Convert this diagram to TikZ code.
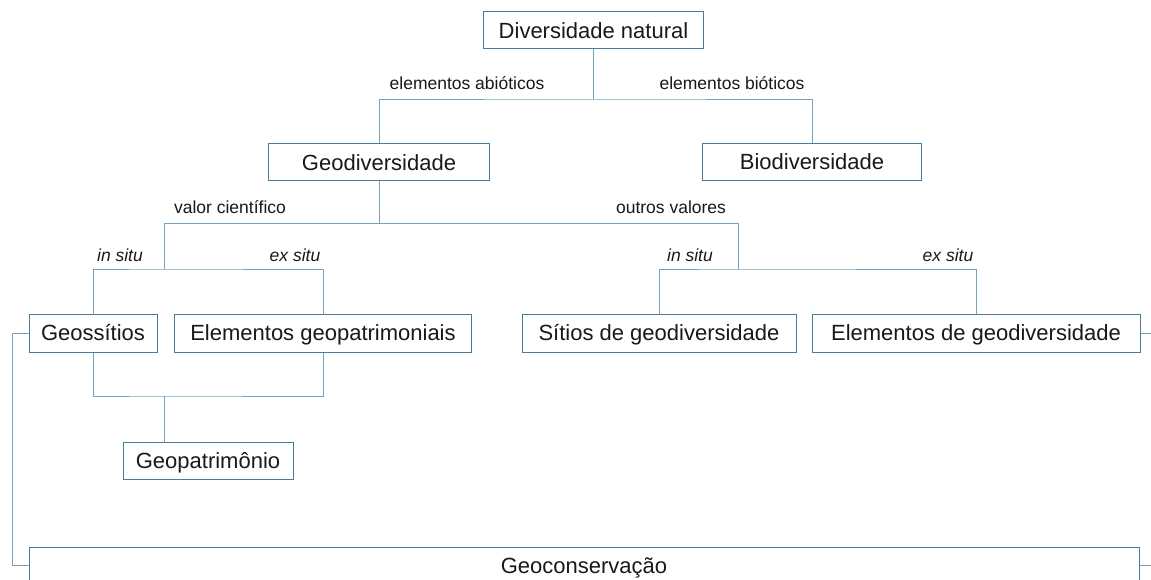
\documentclass[tikz,border=0pt]{standalone}
\usepackage{fontspec}
\setmainfont{Liberation Sans}
\definecolor{boxc}{RGB}{70,125,152}
\definecolor{linec}{RGB}{118,162,186}
\definecolor{txt}{RGB}{25,25,25}
\tikzset{
  box/.style={draw=boxc, line width=1pt, fill=white, inner sep=0pt, text=txt,
    font=\fontsize{22}{26}\selectfont, text height=15.75pt, text depth=0pt,
    minimum height=37pt},
  conn/.style={draw=linec, line width=1pt},
  lbl/.style={anchor=base, inner sep=0pt, text=txt, font=\fontsize{17.5}{20}\selectfont},
}
\begin{document}
\begin{tikzpicture}[x=1pt, y=-1pt]
\useasboundingbox (0,0) rectangle (1151,580);
\clip (0,0) rectangle (1151,580);
\fill[white] (0,0) rectangle (1151,580);

% nodes
\node[box, minimum width=220pt] (dn) at (593.5,30.5) {Diversidade natural};
\node[box, minimum width=221pt] (geo) at (379,162.5) {Geodiversidade};
\node[box, minimum width=219pt] (bio) at (812,162) {Biodiversidade};
\node[box, minimum width=128pt, minimum height=38pt] (geos) at (93,333) {Geossítios};
\node[box, minimum width=297pt, minimum height=38pt] (egp) at (323,333) {Elementos geopatrimoniais};
\node[box, minimum width=274pt, minimum height=38pt] (sg) at (659,333) {Sítios de geodiversidade};
\node[box, minimum width=328pt, minimum height=38pt] (eg) at (976,333) {Elementos de geodiversidade};
\node[box, minimum width=170pt] (gp) at (208,460.5) {Geopatrimônio};
\node[box, minimum width=1110pt] (gc) at (584,565.5) {Geoconservação};

% junctions
\coordinate (j1) at (593.5,100);
\coordinate (ja) at (164,224);
\coordinate (jb) at (738,224);
\coordinate (a) at (164,269);
\coordinate (b) at (738,269);
\coordinate (c) at (164,396);
\coordinate (l) at (12,0);
\coordinate (r) at (1170,0);

% connectors
\draw[conn] (dn.south) -- (j1);
\draw[conn] (geo.north) |- (j1) -| (bio.north);
\draw[conn] (geo.south) -- (geo.south |- ja);
\draw[conn] (a) -- (ja) -- (jb) -- (b);
\draw[conn] (geos.north) |- (a) -| (egp.north);
\draw[conn] (sg.north) |- (b) -| (eg.north);
\draw[conn] (geos.south) |- (c) -| (egp.south);
\draw[conn] (c) -- (c |- gp.north);
\draw[conn] (geos.west) -- (geos.west -| l) |- (gc.west);
\draw[conn] (eg.east) -- (eg.east -| r) |- (gc.east);

% labels
\node[lbl] (l1) at (467,90) {elementos abióticos};
\node[lbl] (l2) at (732,90) {elementos bióticos};
\node[lbl] (l3) at (230,214) {valor científico};
\node[lbl] (l4) at (671,214) {outros valores};
\node[lbl] (l5) at (120,261) {\itshape in situ};
\node[lbl] (l6) at (295,261) {\itshape ex situ};
\node[lbl] (l7) at (690,261) {\itshape in situ};
\node[lbl] (l8) at (948,261) {\itshape ex situ};
\end{tikzpicture}
\end{document}
